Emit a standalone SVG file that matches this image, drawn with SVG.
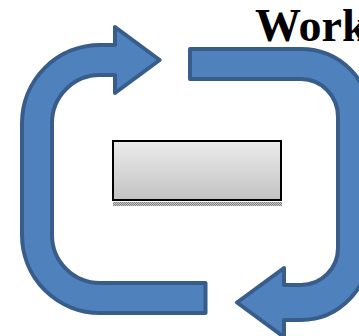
<svg xmlns="http://www.w3.org/2000/svg" width="359" height="336" viewBox="0 0 359 336">
  <style>
    .arrow { fill: #4f81bd; stroke: #385d8a; stroke-width: 4; stroke-linejoin: round; }
    .box { fill: url(#boxGrad); stroke: #000000; stroke-width: 2; }
    .title { font-family: "Liberation Serif", "Times New Roman", serif; font-weight: bold; font-size: 46px; fill: #000000; }
  </style>
  <defs>
    <linearGradient id="boxGrad" x1="0" y1="0" x2="0" y2="1">
      <stop offset="0" stop-color="#ececec"/>
      <stop offset="1" stop-color="#c2c2c2"/>
    </linearGradient>
    <pattern id="shadowPat" width="2" height="2" patternUnits="userSpaceOnUse">
      <rect width="2" height="2" fill="#c8c8c8"/>
      <rect width="1" height="1" fill="#808080"/>
      <rect x="1" y="1" width="1" height="1" fill="#808080"/>
    </pattern>
  </defs>
  <rect width="359" height="336" fill="#ffffff"/>
  <g id="connectors">
    <path id="arrow-left" class="arrow" d="M 205.5 283 L 100 283 A 48 48 0 0 1 52 235 L 52 123 A 48 48 0 0 1 100 75 L 115 75 L 115 93 L 159.7 60 L 115 27 L 115 45 L 100 45 A 78 78 0 0 0 22 123 L 22 235 A 78 78 0 0 0 100 313 L 205.5 313 Z"/>
    <path id="arrow-right" class="arrow" d="M 190 49 L 301 49 A 69 68 0 0 1 370 117 L 370 248 A 69 72 0 0 1 301 320 L 284 320 L 284 337 L 237 302.5 L 284 268 L 284 285 L 301 285 A 37 37 0 0 0 338 248 L 338 117 A 37 38 0 0 0 301 79 L 190 79 Z"/>
  </g>
  <g id="node-box">
    <rect x="113" y="202" width="169" height="4" fill="url(#shadowPat)"/>
    <rect class="box" x="113" y="141" width="168" height="59"/>
  </g>
  <g id="node-title">
    <text class="title" x="255" y="41">Work</text>
  </g>
</svg>
